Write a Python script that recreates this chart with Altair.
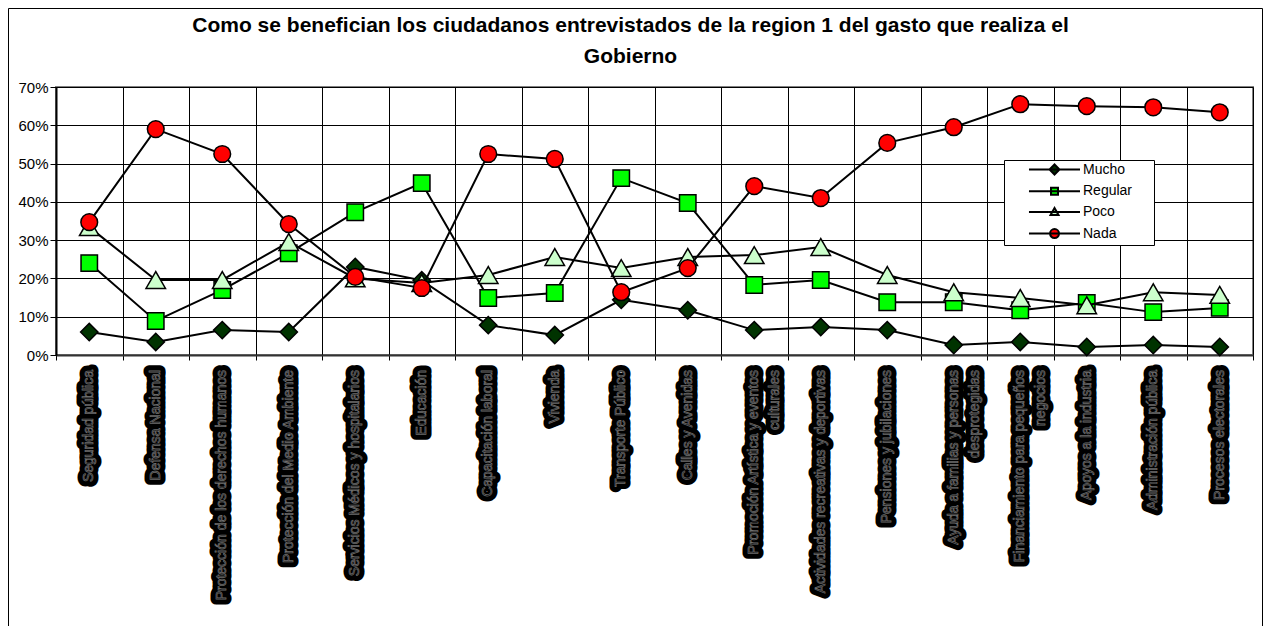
import altair as alt
import pandas as pd

title_lines = [
    "Como se benefician los ciudadanos entrevistados de la region 1 del gasto que  realiza el",
    "Gobierno",
]

categories = [
    "Seguridad pública",
    "Defensa Nacional",
    "Protección de los derechos humanos",
    "Protección del Medio Ambiente",
    "Servicios Médicos y hospitalarios",
    "Educación",
    "Capacitación laboral",
    "Vivienda",
    "Transporte Público",
    "Calles y Avenidas",
    "Promoción Artística y eventos culturales",
    "Actividades recreativas y deportivas",
    "Pensiones y jubilaciones",
    "Ayuda a familias y personas desprotegidas",
    "Financiamiento para pequeños negocios",
    "Apoyos a la industria",
    "Administración pública",
    "Procesos electorales",
]

label_lines = [
    ["Seguridad pública"],
    ["Defensa Nacional"],
    ["Protección de los derechos humanos"],
    ["Protección del Medio Ambiente"],
    ["Servicios Médicos y hospitalarios"],
    ["Educación"],
    ["Capacitación laboral"],
    ["Vivienda"],
    ["Transporte Público"],
    ["Calles y Avenidas"],
    ["Promoción Artística y eventos", "culturales"],
    ["Actividades recreativas y deportivas"],
    ["Pensiones y jubilaciones"],
    ["Ayuda a familias y personas", "desprotegidas"],
    ["Financiamiento para pequeños", "negocios"],
    ["Apoyos a la industria"],
    ["Administración pública"],
    ["Procesos electorales"],
]

series_names = ["Mucho", "Regular", "Poco", "Nada"]

mucho = [6.0, 3.4, 6.5, 6.0, 23.0, 19.5, 7.8, 5.2, 14.4, 11.7, 6.5, 7.3, 6.5, 2.6, 3.4, 2.1, 2.6, 2.1]
regular = [24.0, 8.9, 17.0, 26.6, 37.3, 44.9, 14.9, 16.2, 46.2, 39.7, 18.3, 19.6, 13.8, 13.8, 11.7, 13.6, 11.2, 12.3]
poco = [33.4, 19.6, 19.6, 29.5, 20.0, 18.8, 20.9, 25.6, 22.7, 25.6, 26.1, 28.2, 20.9, 16.4, 14.9, 13.0, 16.4, 15.7]
nada = [34.7, 59.0, 52.5, 34.2, 20.4, 17.5, 52.5, 51.2, 16.4, 22.7, 44.1, 41.0, 55.4, 59.5, 65.5, 65.0, 64.7, 63.4]

y_ticks = [0, 0.1, 0.2, 0.3, 0.4, 0.5, 0.6, 0.7]

# styling
marker_shapes = ["diamond", "square", "triangle-up", "circle"]
marker_fills = ["#003300", "#00FF00", "#CCFFCC", "#FF0000"]
marker_strokes = ["black", "black", "black", "black"]
marker_sizes = [300, 270, 380, 280]
# legend symbols (units of half the symbol size): line + small marker
legend_paths = [
    "M0.71,0H8M3.65,0L4.36,-0.71L5.07,0L4.36,0.71Z",
    "M0.71,0H8M3.86,-0.5H4.86V0.5H3.86Z",
    "M0.71,0H8M4.36,-0.55L4.93,0.45L3.79,0.45Z",
    "M0.71,0H8M5,0A0.64,0.64,0,1,1,3.72,0A0.64,0.64,0,1,1,5,0Z",
]

W, H = 1197, 268
FONT = "Liberation Sans"

rows = []
for name, vals in zip(series_names, [mucho, regular, poco, nada]):
    for c, v in zip(categories, vals):
        rows.append({"cat": c, "series": name, "value": v / 100.0})
df = pd.DataFrame(rows)

label_df = pd.DataFrame({"cat": categories, "label": label_lines})

xscale = alt.Scale(type="band", domain=categories, paddingInner=0, paddingOuter=0)
yscale = alt.Scale(domain=[0, 0.7], nice=False)

x_axis = alt.Axis(
    labels=False, tickBand="extent", grid=True, gridColor="black", gridWidth=1,
    gridOpacity=1, ticks=True, tickSize=5, tickColor="black", tickWidth=1,
    domainColor="#333333", domainWidth=2, title=None,
)
y_axis = alt.Axis(
    values=y_ticks, format=".0%", grid=True, gridColor="black", gridWidth=1,
    gridOpacity=1, tickSize=6, tickColor="black", domainColor="black",
    domainWidth=2, labelFontSize=15, labelColor="black", labelFont=FONT,
    labelPadding=2, title=None,
)
X = alt.X("cat:N", sort=categories, scale=xscale, title=None, axis=x_axis)
Y = alt.Y("value:Q", scale=yscale, title=None, axis=y_axis)

base = alt.Chart(df)
layers = []
for name, shp, fc, sz in zip(series_names, marker_shapes, marker_fills, marker_sizes):
    sub = base.transform_filter(alt.datum.series == name)
    line = sub.mark_line(color="black", strokeWidth=2).encode(x=X, y=Y)
    pts = sub.mark_point(
        shape=shp, filled=True, fill=fc, stroke="black", strokeWidth=1.5,
        size=sz, opacity=1,
    ).encode(x=X, y=Y)
    layers += [line, pts]

# legend box (decoration)
legend_box = alt.Chart(pd.DataFrame({"k": [0]})).mark_rect(
    fill="white", stroke="black", strokeWidth=1
).encode(
    x=alt.value(948.5), x2=alt.value(1098.5), y=alt.value(73.5), y2=alt.value(158.5)
)

leg = alt.Legend(
    orient="none", legendX=960, legendY=74.5, title=None, padding=0,
    labelFont=FONT, labelFontSize=14, labelColor="black",
    symbolSize=196, symbolStrokeWidth=2, symbolStrokeColor="black",
    symbolOpacity=1, labelOffset=51, rowPadding=4.7,
)
legend_layer = base.transform_filter("false").mark_point(
    filled=True, strokeWidth=2, opacity=1
).encode(
    shape=alt.Shape("series:N", scale=alt.Scale(domain=series_names, range=legend_paths), legend=leg),
    fill=alt.Fill("series:N", scale=alt.Scale(domain=series_names, range=marker_fills), legend=leg),
    stroke=alt.Stroke("series:N", scale=alt.Scale(domain=series_names, range=marker_strokes), legend=leg),
)

lbl_base = alt.Chart(label_df).encode(
    x=X, y=alt.value(H + 15), text=alt.Text("label:N")
)
lbl_box = lbl_base.mark_text(
    angle=270, align="right", baseline="middle", font=FONT, fontSize=14,
    lineHeight=21, fill="black", stroke="black", strokeWidth=11, strokeJoin="round",
)
lbl_txt = lbl_base.mark_text(
    angle=270, align="right", baseline="middle", font=FONT, fontSize=14,
    lineHeight=21, fill="black", stroke="#6e6e6e", strokeWidth=0.7,
)

frame = alt.Chart(pd.DataFrame({"k": [0]})).mark_rect(
    fillOpacity=0, stroke="black", strokeWidth=1
).encode(
    x=alt.value(-47.5), x2=alt.value(W + 9.5), y=alt.value(-78.5), y2=alt.value(H + 300)
)

chart = alt.layer(
    *layers, legend_box, legend_layer, lbl_box, lbl_txt, frame
).properties(
    width=W, height=H,
    title=alt.TitleParams(
        text=title_lines, font=FONT, fontSize=21, fontWeight="bold", color="black",
        anchor="middle", dx=-24, offset=-59, lineHeight=31,
    ),
    autosize=alt.AutoSizeParams(type="none"),
    padding={"left": 48, "top": 79, "right": 10, "bottom": 271},
).configure(
    font=FONT, background="white"
).configure_view(
    stroke="#808080", strokeWidth=2
)

chart.save("out.html", embed_options={"renderer": "svg", "actions": False})
